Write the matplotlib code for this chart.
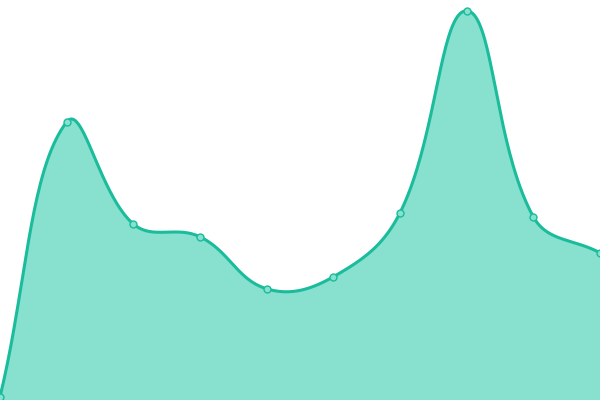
import numpy as np
import matplotlib
matplotlib.use('Agg')
import matplotlib.pyplot as plt

labels = ['1', '2', '3', '4', '5', '6', '7', '8', '9', '10']
values = [0.8, 69.5, 44.0, 40.8, 27.8, 30.8, 46.8, 97.3, 45.8, 36.8]

line_color = '#1abc9c'
fill_color = '#88e0cf'
tension = 0.4


def spline_path(xs, ys, t, sx, sy, steps=40):
    # chart.js style control points computed in pixel space
    n = len(xs)
    px = np.array(xs) * sx
    py = np.array(ys) * sy
    cp_prev = []
    cp_next = []
    for i in range(n):
        a = max(i - 1, 0)
        b = min(i + 1, n - 1)
        d01 = np.hypot(px[i] - px[a], py[i] - py[a])
        d12 = np.hypot(px[b] - px[i], py[b] - py[i])
        tot = d01 + d12
        s01 = d01 / tot if tot else 0
        s12 = d12 / tot if tot else 0
        dx = px[b] - px[a]
        dy = py[b] - py[a]
        cp_prev.append((px[i] - t * s01 * dx, py[i] - t * s01 * dy))
        cp_next.append((px[i] + t * s12 * dx, py[i] + t * s12 * dy))
    out_x, out_y = [], []
    u = np.linspace(0, 1, steps)
    for i in range(n - 1):
        p0 = (px[i], py[i])
        p1 = cp_next[i]
        p2 = cp_prev[i + 1]
        p3 = (px[i + 1], py[i + 1])
        bx = (1-u)**3*p0[0] + 3*(1-u)**2*u*p1[0] + 3*(1-u)*u**2*p2[0] + u**3*p3[0]
        by = (1-u)**3*p0[1] + 3*(1-u)**2*u*p1[1] + 3*(1-u)*u**2*p2[1] + u**3*p3[1]
        out_x.extend(bx)
        out_y.extend(by)
    return np.array(out_x) / sx, np.array(out_y) / sy


x = np.arange(len(values))
fig = plt.figure(figsize=(6, 4), dpi=100)
ax = fig.add_axes([0, 0, 1, 1])
ax.set_xlim(0, len(values) - 1)
ax.set_ylim(0, 100)

sx = 600 / (len(values) - 1)
sy = 4.0
cx, cy = spline_path(x, values, tension, sx, sy)

ax.fill_between(cx, 0, cy, color=fill_color, lw=0)
ax.plot(cx, cy, color=line_color, lw=2.2, solid_capstyle='round')
ax.plot(x, values, 'o', ms=5, mfc=fill_color, mec=line_color, mew=1)
ax.axis('off')

fig.savefig('out.png', dpi=100)
